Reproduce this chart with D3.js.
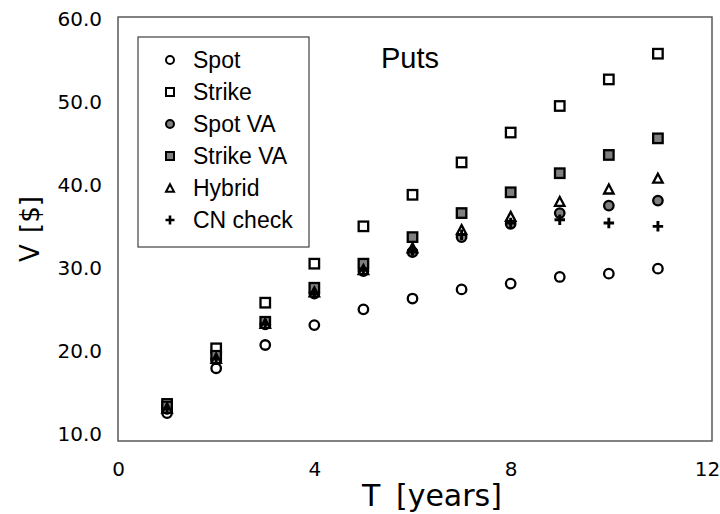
<!DOCTYPE html>
<html><head><meta charset="utf-8">
<script src="https://cdn.jsdelivr.net/npm/d3@7"></script>
<style>html,body{margin:0;padding:0;background:#fff;}</style>
</head><body>
<svg id="chart" width="720" height="514"></svg>
<script>
const years = [1,2,3,4,5,6,7,8,9,10,11];
const spot     = [12.4,17.8,20.6,23.0,24.9,26.2,27.3,28.0,28.8,29.2,29.8];
const strike   = [13.5,20.2,25.7,30.4,34.9,38.7,42.6,46.2,49.4,52.6,55.7];
const spotVA   = [12.9,18.9,23.1,26.8,29.5,31.8,33.6,35.2,36.5,37.4,38.0];
const strikeVA = [13.2,19.3,23.4,27.5,30.4,33.6,36.5,39.0,41.3,43.5,45.5];
const hybrid   = [13.0,19.0,23.2,27.0,29.7,32.3,34.5,36.1,37.9,39.4,40.7];
const cnCheck  = [12.9,18.9,23.1,26.8,29.6,32.0,33.9,35.3,35.7,35.3,34.9];
const seriesNames = ["Spot","Strike","Spot VA","Strike VA","Hybrid","CN check"];
const xTicks = [0,4,8,12];
const yTicks = [10,20,30,40,50,60];
const title = "Puts";
const xTitle = "T [years]";
const yTitle = "V [$]";

const seriesData = [spot, strike, spotVA, strikeVA, hybrid, cnCheck];
const shapes = ["circle","square","circle","square","triangle","plus"];
const fills  = ["#ffffff","#ffffff","#7f7f7f","#7f7f7f","#ffffff","none"];

const svg = d3.select("#chart");
const frame = {left:118, top:17, right:712, bottom:441};
const x = d3.scaleLinear().domain([0,12]).range([118,707]);
const y = d3.scaleLinear().domain([10,60]).range([433,18]);
const axisFont = "'DejaVu Sans', Verdana, sans-serif";
const textFont = "'Liberation Sans', Arial, sans-serif";

// frame
svg.append("rect").attr("x",frame.left).attr("y",frame.top)
  .attr("width",frame.right-frame.left).attr("height",frame.bottom-frame.top)
  .attr("fill","none").attr("stroke","#595959").attr("stroke-width",1.5);

// y axis labels
const yAxis = d3.axisLeft(y).tickValues(yTicks).tickFormat(d3.format(".1f")).tickSize(0).tickPadding(0);
const gy = svg.append("g").attr("transform","translate(102,0)").call(yAxis);
gy.select(".domain").remove();
gy.selectAll("text").attr("font-family",axisFont).attr("font-size",20).attr("fill","#000").attr("dy","0.35em");

// x axis labels
const xAxis = d3.axisBottom(x).tickValues(xTicks).tickFormat(d3.format("d")).tickSize(0).tickPadding(0);
const gx = svg.append("g").attr("transform","translate(0,469)").call(xAxis);
gx.select(".domain").remove();
gx.selectAll("text").attr("font-family",axisFont).attr("font-size",20).attr("fill","#000").attr("dy","0.35em");

// axis titles
svg.append("text").attr("x",432).attr("y",495).attr("dy","0.35em").attr("text-anchor","middle")
  .attr("font-family",axisFont).attr("font-size",30).attr("word-spacing",6).text(xTitle);
svg.append("text").attr("transform","translate(30,229) rotate(-90)").attr("dy","0.35em").attr("text-anchor","middle")
  .attr("font-family",axisFont).attr("font-size",26).attr("word-spacing",3).text(yTitle);

// chart title
svg.append("text").attr("x",381).attr("y",68).attr("font-family",textFont).attr("font-size",29).text(title);

function drawMarker(g, shape, fill, size, sw){
  const s = size;
  if(shape==="circle"){
    g.append("circle").attr("r",s/2).attr("fill",fill).attr("stroke","#000").attr("stroke-width",sw);
  } else if(shape==="square"){
    g.append("rect").attr("x",-s/2).attr("y",-s/2).attr("width",s).attr("height",s)
      .attr("fill",fill).attr("stroke","#000").attr("stroke-width",sw);
  } else if(shape==="triangle"){
    const h = s*0.95;
    g.append("path").attr("d",`M0,${-h/2}L${s/2},${h/2}L${-s/2},${h/2}Z`)
      .attr("fill",fill).attr("stroke","#000").attr("stroke-width",sw).attr("stroke-linejoin","miter");
  } else if(shape==="plus"){
    const a = s/2+0.5;
    g.append("path").attr("d",`M${-a},0H${a}M0,${-a}V${a}`).attr("stroke","#000").attr("stroke-width",sw+0.6);
  }
}

// data points
seriesData.forEach((vals,i)=>{
  const g = svg.append("g").attr("class","series-"+i);
  vals.forEach((v,j)=>{
    const m = g.append("g").attr("transform",`translate(${x(years[j])},${y(v)})`);
    drawMarker(m, shapes[i], fills[i], 9.5, 2.3);
  });
});

// legend
const leg = svg.append("g");
leg.append("rect").attr("x",138).attr("y",37).attr("width",171).attr("height",210)
  .attr("fill","#fff").attr("stroke","#404040").attr("stroke-width",1.2);
const legY = d3.scalePoint().domain(seriesNames).range([60,220]);
seriesNames.forEach((name,i)=>{
  const m = leg.append("g").attr("transform",`translate(170,${legY(name)})`);
  drawMarker(m, shapes[i], fills[i], 8, 2);
  leg.append("text").attr("x",193).attr("y",legY(name)).attr("dy","0.35em")
    .attr("font-family",textFont).attr("font-size",23).text(name);
});
</script>
</body></html>
